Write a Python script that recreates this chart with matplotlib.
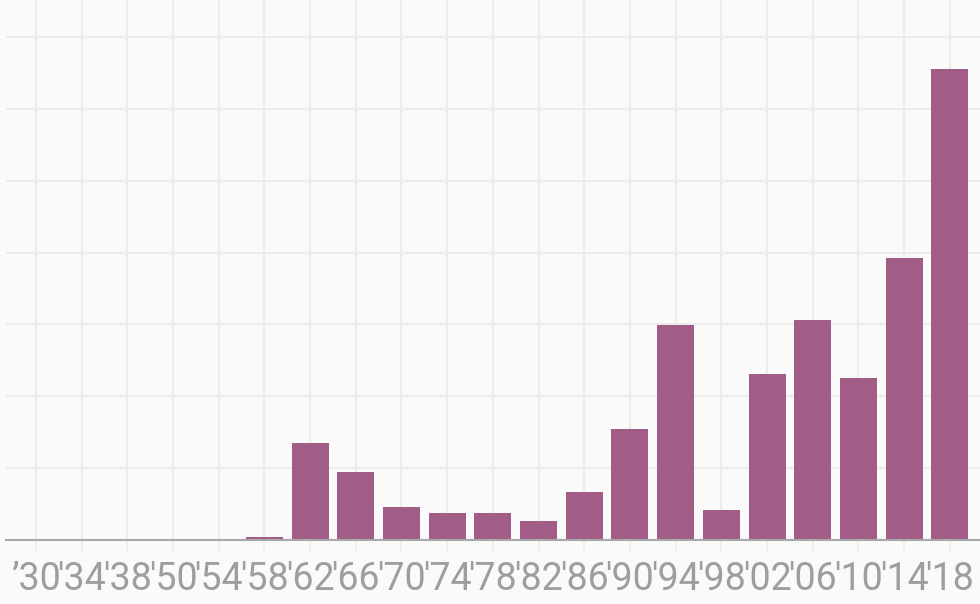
import matplotlib.pyplot as plt

# ----------------------------------------------------
# DATA

years = ["’30", "'34", "'38", "'50", "'54", "'58", "'62", "'66", "'70", "'74", "'78",
         "'82", "'86", "'90", "'94", "'98", "'02", "'06", "'10", "'14", "'18"]
values = [0, 0, 0, 0, 0, 0.4, 13.5, 9.5, 4.6, 3.8, 3.8,
          2.6, 6.7, 15.5, 29.9, 4.2, 23.1, 30.6, 22.6, 39.2, 65.5]
y_grid = [0, 10, 20, 30, 40, 50, 60, 70]

# ----------------------------------------------------
# PLOT

bg = '#fafafa'
bar_color = '#a15d86'
grid_color = '#ececec'
text_color = '#9e9e9e'

fig = plt.figure(figsize=(9.8, 6.04), dpi=100, facecolor=bg)
ax = fig.add_axes([0.006, 0.106, 0.994, 0.894], facecolor=bg)

x = list(range(len(years)))
ax.bar(x, values, width=0.81, color=bar_color, zorder=3)

ax.set_xlim(-0.656, 20.66)
ax.set_ylim(0, 75.15)

ax.set_yticks(y_grid)
ax.set_yticklabels([])
ax.tick_params(axis='y', length=0)

ax.set_xticks(x)
ax.set_xticklabels(years, family=['Roboto', 'DejaVu Sans'], fontsize=27, color=text_color)
ax.tick_params(axis='x', length=8, width=1.2, color=grid_color, pad=7)

ax.grid(True, color=grid_color, linewidth=1.5, zorder=0)

for side in ['top', 'right', 'left']:
    ax.spines[side].set_visible(False)
ax.spines['bottom'].set_color('#a8a8a8')
ax.spines['bottom'].set_linewidth(1.5)
ax.spines['bottom'].set_zorder(4)

fig.savefig('out.png', dpi=100, facecolor=bg)
